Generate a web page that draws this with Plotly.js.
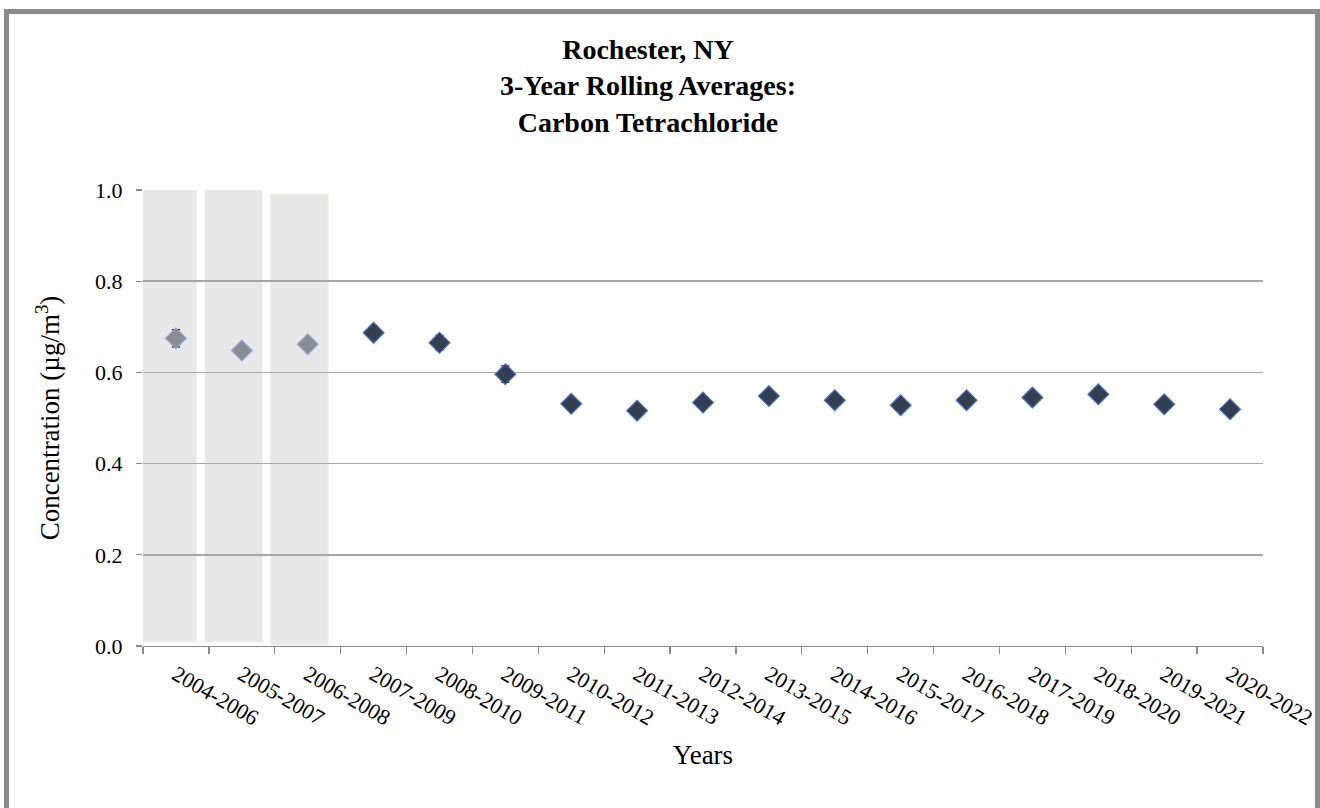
<!DOCTYPE html>
<html>
<head>
<meta charset="utf-8">
<script src="https://cdn.plot.ly/plotly-3.0.1.min.js"></script>
<style>
  html, body { margin: 0; padding: 0; background: #ffffff; overflow: hidden; }
  #chart { position: absolute; left: 0; top: 0; width: 1320px; height: 808px; }
  #frame {
    position: absolute; left: 4px; top: 9px; width: 1316px; height: 900px;
    box-sizing: border-box; border: 5px solid #8a8a8a; pointer-events: none;
  }
</style>
</head>
<body>
<div id="chart"></div>
<div id="frame"></div>
<script>
// Three-year rolling periods
const periods = [
  "2004-2006", "2005-2007", "2006-2008", "2007-2009", "2008-2010", "2009-2011",
  "2010-2012", "2011-2013", "2012-2014", "2013-2015", "2014-2016", "2015-2017",
  "2016-2018", "2017-2019", "2018-2020", "2019-2021", "2020-2022"
];

// Rolling average concentration (µg/m³) and its uncertainty
const averages = [
  0.675, 0.648, 0.662, 0.687, 0.665, 0.596,
  0.531, 0.516, 0.534, 0.548, 0.539, 0.528,
  0.539, 0.545, 0.552, 0.530, 0.519
];
const errors = [
  0.019, 0.008, 0.008, 0.015, 0.016, 0.018,
  0.008, 0.008, 0.008, 0.008, 0.008, 0.008,
  0.008, 0.008, 0.008, 0.008, 0.008
];

// Periods with incomplete data are shaded and drawn in grey
const flaggedCount = 3;
const shadeTop = [1.0, 1.0, 0.991];
const shadeBottom = [0.009, 0.009, 0.002];

const yTicks = [0, 0.2, 0.4, 0.6, 0.8, 1.0];
const yTickText = ["0.0", "0.2", "0.4", "0.6", "0.8", "1.0"];

const serif = "Liberation Serif, Times New Roman, serif";

const flaggedIdx = periods.map((_, i) => i).filter(i => i < flaggedCount);
const normalIdx = periods.map((_, i) => i).filter(i => i >= flaggedCount);
const pick = (arr, idx) => idx.map(i => arr[i]);

function pointTrace(idx, fill, edge) {
  return {
    type: "scatter",
    mode: "markers",
    x: pick(periods, idx),
    y: pick(averages, idx),
    error_y: {
      type: "data", array: pick(errors, idx), visible: true,
      color: "#000000", thickness: 1.3, width: 4
    },
    marker: { symbol: "diamond", size: 16, color: fill, line: { color: edge, width: 1.2 } },
    hoverinfo: "x+y",
    showlegend: false
  };
}

const traces = [
  pointTrace(flaggedIdx, "#8a8e94", "#8eaadb"),
  pointTrace(normalIdx, "#333f50", "#4472c4")
];

// Shaded columns behind the flagged periods, sitting under the gridlines
const shapes = shadeTop.map((top, i) => ({
  type: "rect", layer: "below", xref: "x", yref: "y",
  x0: i - 0.56, x1: i + 0.31, y0: shadeBottom[i], y1: top,
  fillcolor: "#e8e8e8", line: { color: "#f1eee0", width: 1 }
}));

const layout = {
  width: 1320, height: 808,
  paper_bgcolor: "#ffffff", plot_bgcolor: "rgba(0,0,0,0)",
  margin: { l: 143, r: 57, t: 190, b: 162 },
  font: { family: serif, color: "#000000", size: 22 },
  title: {
    text: "<b>Rochester, NY<br>3-Year Rolling Averages:<br>Carbon Tetrachloride</b>",
    font: { family: serif, size: 28, color: "#000000" },
    xref: "container", x: 648 / 1320, xanchor: "center",
    yref: "container", y: 1 - 59 / 808, yanchor: "top"
  },
  xaxis: {
    type: "category",
    range: [-0.5, periods.length - 0.5],
    tickangle: 30,
    tickson: "boundaries",
    ticks: "outside", ticklen: 7, tickcolor: "#8a8a8a", tickwidth: 1.3,
    ticklabelstandoff: 6,
    showline: true, linecolor: "#8a8a8a", linewidth: 1.3,
    showgrid: false, zeroline: false,
    tickfont: { family: serif, size: 22, color: "#000000" },
    title: { text: "Years", font: { family: serif, size: 27, color: "#000000" }, standoff: 16 },
    automargin: false
  },
  yaxis: {
    range: [0, 1.0],
    tickvals: yTicks, ticktext: yTickText,
    ticks: "outside", ticklen: 6, tickcolor: "#8a8a8a", tickwidth: 1.3,
    ticklabelstandoff: 9,
    showline: false, zeroline: false,
    showgrid: true, gridcolor: "#a6a6a6", gridwidth: 1.5,
    tickfont: { family: serif, size: 22, color: "#000000" },
    title: { text: "Concentration (µg/m<sup>3</sup>)", font: { family: serif, size: 27, color: "#000000" }, standoff: 27 },
    automargin: false
  },
  shapes: shapes
};

Plotly.newPlot("chart", traces, layout, { staticPlot: true, displayModeBar: false });
</script>
</body>
</html>
